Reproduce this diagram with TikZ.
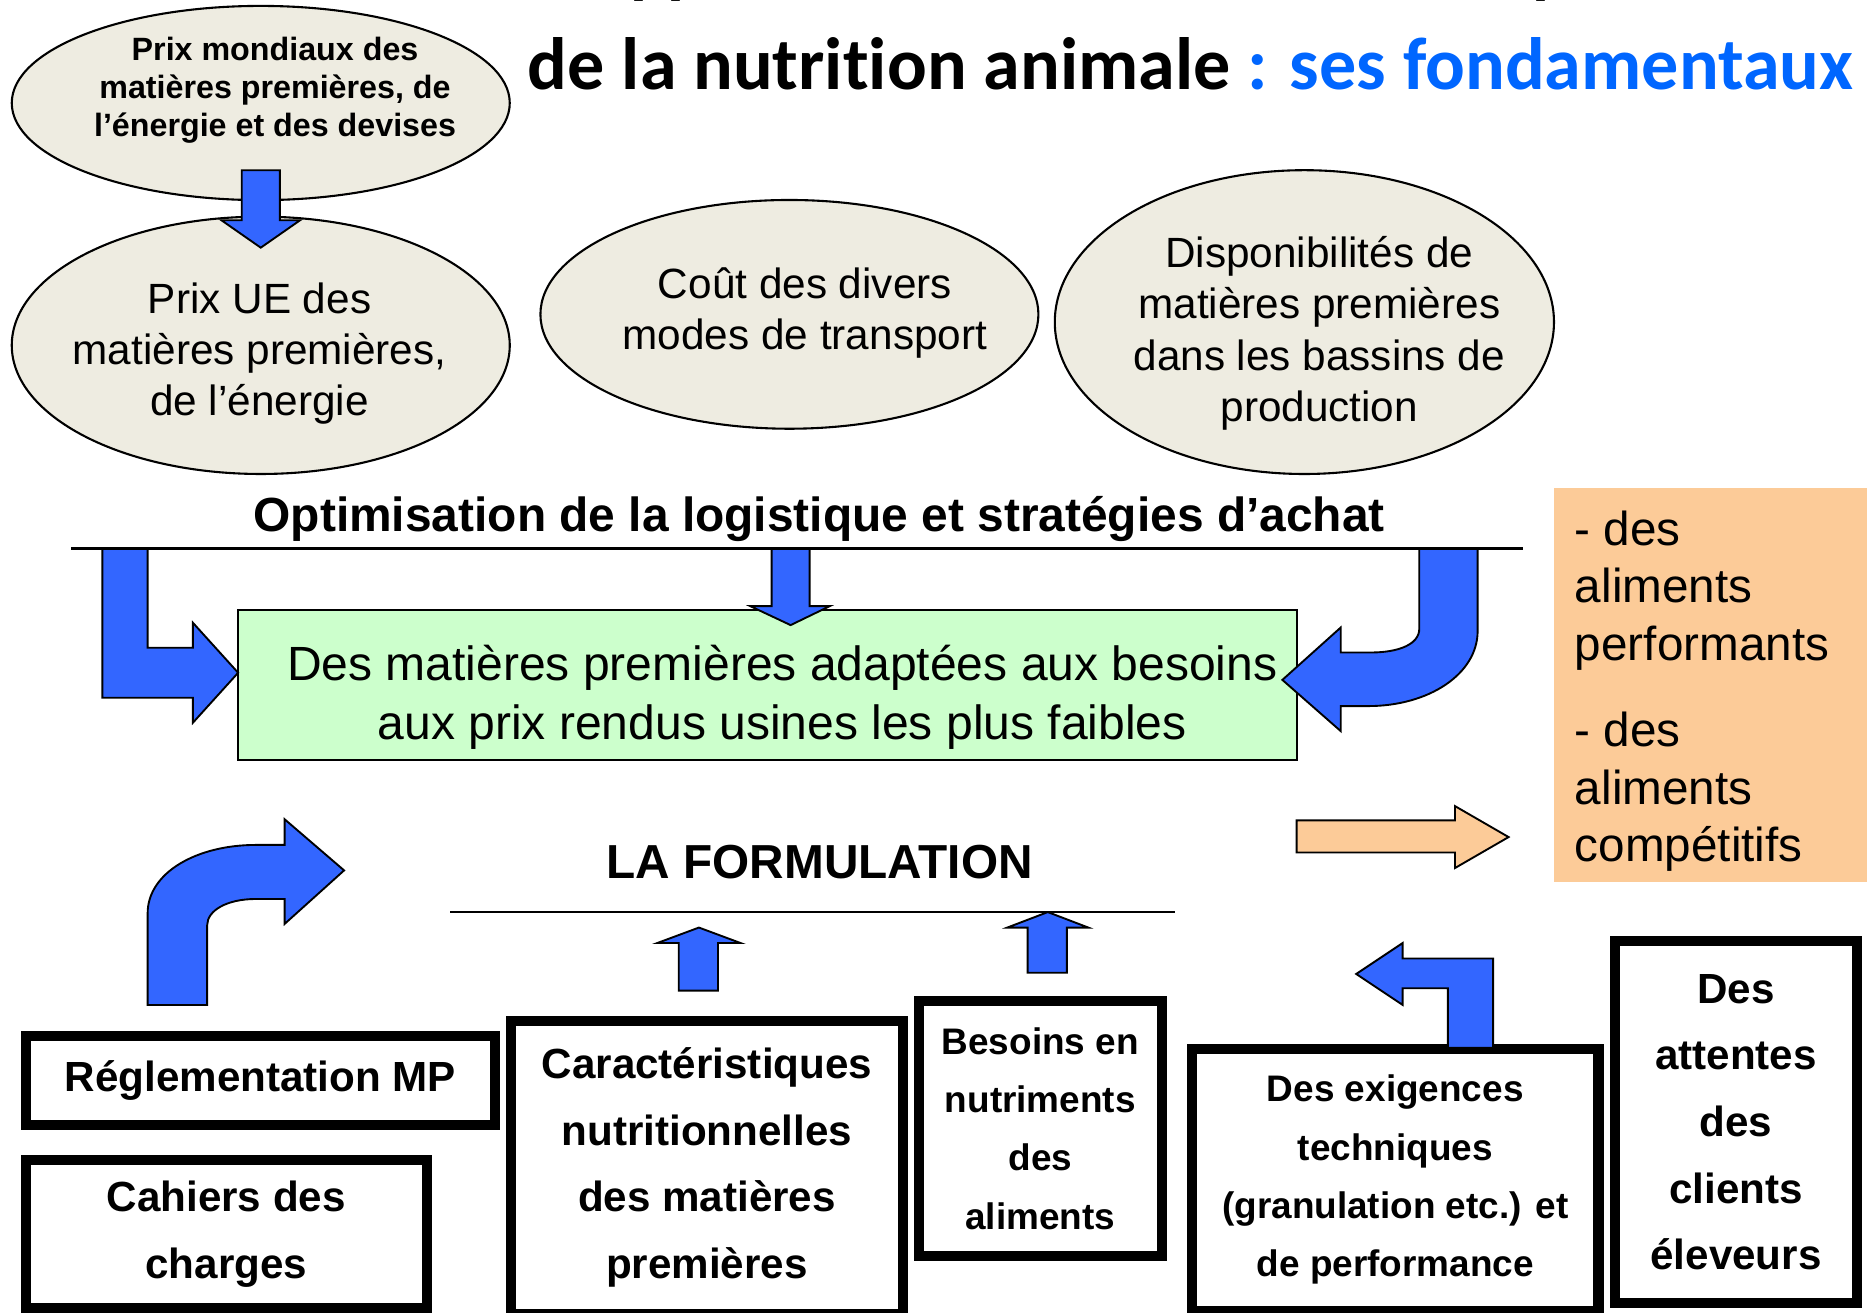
\documentclass[tikz,border=0pt]{standalone}
\usepackage{fontspec}
\setmainfont{Liberation Sans}
\newfontfamily\calib[RawFeature=-liga]{Carlito}
\usetikzlibrary{shapes.geometric}
\definecolor{ellfill}{HTML}{EEECE1}
\definecolor{arrblue}{HTML}{3366FF}
\definecolor{gfill}{HTML}{CCFFCC}
\definecolor{ofill}{HTML}{FCCB98}
\definecolor{tblue}{HTML}{0066FF}
\newcommand\fsz[2]{\fontsize{#1pt}{#2pt}\selectfont}
\begin{document}
\begin{tikzpicture}[x=0.01cm,y=-0.01cm,
  ell/.style={ellipse, draw=black, line width=0.5pt, fill=ellfill, inner sep=0pt},
  txt/.style={inner sep=0pt, align=center},
  blk/.style={fill=arrblue, draw=black, line width=0.45pt, line join=miter},
  oarr/.style={fill=ofill, draw=black, line width=0.45pt, line join=miter},
  tbox/.style={draw=black, line width=2.42pt, fill=white, inner sep=0pt, align=center},
  bigb/.style={font=\bfseries\fsz{10.07}{15.93}},
  smallb/.style={font=\bfseries\fsz{8.82}{13.94}},
  ellt/.style={txt, font=\fsz{10.1}{12.23}},
  rule/.style={draw=black}
]
\useasboundingbox (0,0) rectangle (1568,1102);
\clip (0,0) rectangle (1568,1102);
\fill[white] (0,0) rectangle (1568,1102);

% title
\node[anchor=base, inner sep=0pt, font=\calib\bfseries\fsz{16.6}{19}] (title1) at (1000,-8) {L’approvisionnement en matières premières};
\node[anchor=base, inner sep=0pt, font=\calib\bfseries\fsz{17.7}{21}] (title2) at (1000,75) {de la nutrition animale \textcolor{tblue}{: ses fondamentaux}};

% ellipses
\node[ell, minimum width=4.18cm, minimum height=1.63cm] (ea) at (219,86.5) {};
\node[txt, font=\bfseries\fsz{7.7}{9.1}] (eat) at (231,76) {Prix mondiaux des\\matières premières, de\\l’énergie et des devises};
\node[ell, minimum width=4.18cm, minimum height=2.16cm] (eb) at (219,290) {};
\node[ellt] (ebt) at (218,297) {Prix UE des\\matières premières,\\de l’énergie};
\node[ell, minimum width=4.18cm, minimum height=1.92cm] (ec) at (663,264) {};
\node[ellt] (ect) at (676,263) {Coût des divers\\modes de transport};
\node[ell, minimum width=4.19cm, minimum height=2.55cm] (ed) at (1095.5,270.5) {};
\node[ellt] (edt) at (1108,280) {Disponibilités de\\matières premières\\dans les bassins de\\production};

% arrow A -> B
\draw[blk] (203,143) -- (235,143) -- (235,185) -- (252,185) -- (219,208) -- (186,185) -- (203,185) -- cycle;

% optimisation
\node[anchor=base, inner sep=0pt, font=\bfseries\fsz{11.44}{14}] (opt) at (688,446) {Optimisation de la logistique et stratégies d’achat};
\coordinate (optL) at (60,461);
\coordinate (optR) at (1279,461);
\draw[line width=0.7pt] (optL) -- (optR);

% orange box
\node[fill=ofill, inner sep=0pt, minimum width=2.75cm, minimum height=3.31cm] (ob) at (1442.5,575.5) {};
\node[txt, align=left, anchor=west, font=\fsz{11.38}{13.66}] (obt1) at (1322,496) {- des\\aliments\\performants};
\node[txt, align=left, anchor=west, font=\fsz{11.38}{13.66}] (obt2) at (1322,665) {- des\\aliments\\compétitifs};

% green box
\node[draw=black, line width=0.45pt, fill=gfill, inner sep=0pt, minimum width=8.89cm, minimum height=1.26cm] (gb) at (644.5,575) {};
\node[txt, font=\fsz{11.47}{14.2}] (gbt) at (657,585.5) {Des matières premières adaptées aux besoins\\aux prix rendus usines les plus faibles};

% arrows into green box
\draw[blk] (648,461) -- (680,461) -- (680,509) -- (697,509) -- (664,525) -- (630,509) -- (648,509) -- cycle;
\draw[blk] (86,461) -- (124,461) -- (124,544) -- (162,544) -- (162,523) -- (200,565) -- (162,607) -- (162,586) -- (86,586) -- cycle;
\draw[blk] (1241,461) -- (1241,530) .. controls (1241,566) and (1200,593) .. (1149,593) -- (1126,593) -- (1126,614) -- (1077,571) -- (1126,527) -- (1126,548) -- (1151,548) .. controls (1175,548) and (1192,541) .. (1192,528) -- (1192,461) -- cycle;

% orange arrow
\draw[oarr] (1089,689) -- (1222,689) -- (1222,677) -- (1267,703) -- (1222,729) -- (1222,716) -- (1089,716) -- cycle;

% formulation
\node[anchor=base, inner sep=0pt, font=\bfseries\fsz{11.4}{13}] (form) at (688.5,738) {LA FORMULATION};
\coordinate (formL) at (378,766);
\coordinate (formR) at (987,766);
\draw[line width=0.5pt] (formL) -- (formR);

% bottom boxes
\node[tbox, bigb, minimum width=3.94cm, minimum height=0.745cm] (b1) at (218.75,907.5) {Réglementation MP};
\node[tbox, bigb, minimum width=3.365cm, minimum height=1.248cm] (b2) at (190,1036.4) {Cahiers des\\charges};
\node[tbox, bigb, minimum width=3.29cm, minimum height=2.465cm] (b3) at (593.75,980.5) {Caractéristiques\\nutritionnelles\\des matières\\premières};
\node[tbox, smallb, minimum width=2.04cm, minimum height=2.136cm] (b4) at (873.7,947.65) {Besoins en\\nutriments\\des\\aliments};
\node[tbox, smallb, minimum width=3.412cm, minimum height=2.199cm] (b5) at (1171.85,990.8) {Des exigences\\techniques\\(granulation etc.) et\\de performance};
\node[tbox, bigb, minimum width=2.035cm, minimum height=3.039cm] (b6) at (1458,942.5) {Des\\attentes\\des\\clients\\éleveurs};

% arrows to formulation
\draw[blk] (124,844) -- (124,767) .. controls (124,733) and (165,709.6) .. (215,709.6) -- (239,709.6) -- (239,688) -- (289,731) -- (239,776) -- (239,755) -- (215,755) .. controls (190,755) and (174,765) .. (174,777) -- (174,844) -- cycle;
\draw[blk] (570,832) -- (570,792) -- (552,792) -- (587,779) -- (622,792) -- (603,792) -- (603,832) -- cycle;
\draw[blk] (863,817) -- (863,779) -- (846,779) -- (880,766) -- (914,779) -- (896,779) -- (896,817) -- cycle;
\draw[blk] (1216,880) -- (1216,830) -- (1178,830) -- (1178,844) -- (1139,818) -- (1178,792) -- (1178,805) -- (1254,805) -- (1254,880) -- cycle;
\end{tikzpicture}
\end{document}
